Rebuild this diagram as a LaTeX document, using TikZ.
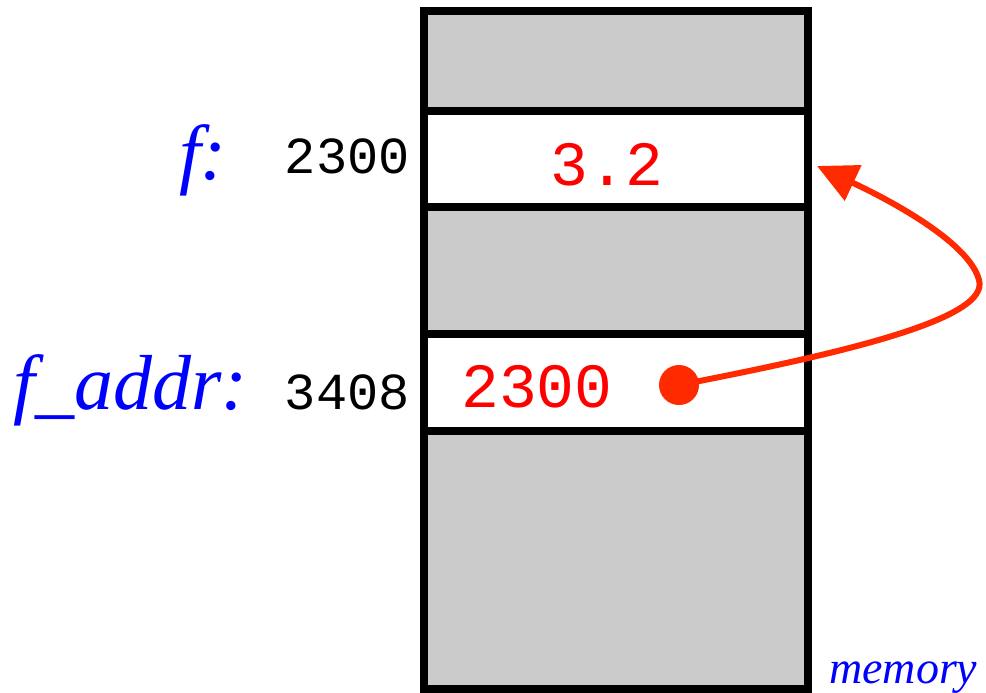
\documentclass[tikz,border=0pt]{standalone}
\usepackage{fontspec}
\setmainfont{Liberation Serif}
\newfontfamily\monof{Liberation Mono}
\usetikzlibrary{arrows.meta}
\definecolor{cellgray}{HTML}{CBCBCB}
\definecolor{arrowred}{HTML}{FF2A00}
\tikzset{
  cell/.style={draw=black, line width=8pt, minimum width=384pt, inner sep=0pt, outer sep=0pt, anchor=north},
  graycell/.style={cell, fill=cellgray},
  whitecell/.style={cell, fill=white},
  varname/.style={text=blue, font=\fontsize{78}{82}\selectfont\itshape, inner sep=0pt, anchor=base east},
  addr/.style={text=black, font=\fontsize{52}{56}\monof, inner sep=0pt, anchor=base east},
  val/.style={text=red, font=\fontsize{63}{66}\monof, inner sep=0pt, anchor=base west},
  ptr/.style={draw=arrowred, line width=6pt, -{Triangle[length=40pt,width=38pt]}}
}
\begin{document}
\begin{tikzpicture}[x=1pt,y=-1pt]
\useasboundingbox (0,0) rectangle (986,693);
\node[graycell, minimum height=100pt] (c1) at (616,11) {};
\node[whitecell, minimum height=96pt] (c2) at (616,111) {};
\node[graycell, minimum height=127pt] (c3) at (616,207) {};
\node[whitecell, minimum height=97pt] (c4) at (616,334) {};
\node[graycell, minimum height=258pt] (c5) at (616,431) {};
% labels
\node[varname] (fname) at (227,179) {f:};
\node[varname] (faddrname) at (248,409) {f\_addr:};
\node[addr] (a1) at (410,173) {2300};
\node[addr] (a2) at (410,409) {3408};
\node[val] (v1) at (550,185) {3.2};
\node[val] (v2) at (461,407) {2300};
\node[text=blue, font=\fontsize{46}{50}\selectfont\itshape, inner sep=0pt, anchor=base west] (mem) at (829,683) {memory};
% pointer
\node[circle, fill=arrowred, minimum size=40pt, inner sep=0pt] (dot) at (679,385) {};
\coordinate (tip) at (817,166);
\coordinate (bend) at (979,280);
\draw[ptr] (dot.center) .. controls (850,352) and (990,318) .. (bend) .. controls (970,245) and (900,205) .. (tip);
\end{tikzpicture}
\end{document}
